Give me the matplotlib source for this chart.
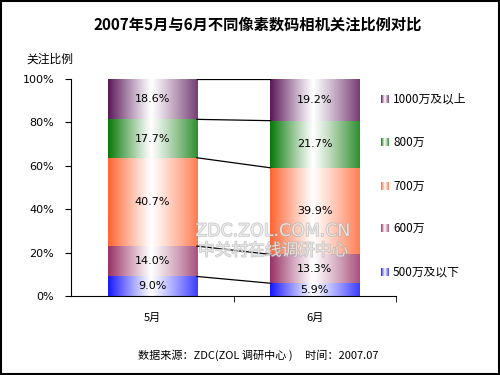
import numpy as np
import matplotlib
matplotlib.use("Agg")
import matplotlib.pyplot as plt
from matplotlib.colors import to_rgb
from matplotlib.patches import Rectangle
import matplotlib.patheffects as pe

plt.rcParams['font.family'] = ['Noto Sans CJK SC', 'DejaVu Sans']

# ---------------- data ----------------
months = ["5月", "6月"]
series = ["500万及以下", "600万", "700万", "800万", "1000万及以上"]
v_500 = [9.0, 5.9]
v_600 = [14.0, 13.3]
v_700 = [40.7, 39.9]
v_800 = [17.7, 21.7]
v_1000 = [18.6, 19.2]
colors = ["#1a1aff", "#993366", "#ff6633", "#0a7a0a", "#5c1a5c"]

values = [v_500, v_600, v_700, v_800, v_1000]


def gradient(color, n=64):
    c = np.array(to_rgb(color))
    u = np.linspace(0, 1, n)
    t = np.where(u < 0.48, 1 - u / 0.48, (u - 0.48) / 0.52 * 0.85)
    t = np.clip(t, 0, 1) ** 1.1
    rgb = 1 - (1 - c)[None, :] * t[:, None]
    return rgb[None, :, :]


fig = plt.figure(figsize=(5, 3.75), dpi=100)
ax = fig.add_axes([71 / 500, 1 - 296 / 375, 325 / 500, 217 / 375])

x = np.arange(len(months))
width = 0.55
bottom = np.zeros(len(months))
tops = []
for vals, col in zip(values, colors):
    vals = np.array(vals)
    for i in range(len(months)):
        ax.imshow(gradient(col), extent=[x[i] - width / 2, x[i] + width / 2,
                                         bottom[i], bottom[i] + vals[i]],
                  aspect='auto', interpolation='bilinear', zorder=2)
        ax.text(x[i], bottom[i] + vals[i] / 2, f"{vals[i]:.1f}%",
                ha='center', va='center', fontsize=8, zorder=4,
                family='DejaVu Sans')
    bottom = bottom + vals
    tops.append(bottom.copy())

# series lines between bars
for tp in tops:
    ax.plot([x[0] + width / 2, x[1] - width / 2], [tp[0], tp[1]],
            color='black', lw=0.9, zorder=3)

ax.set_xlim(-0.5, 1.5)
ax.set_ylim(0, 100)
ax.set_yticks(np.arange(0, 101, 20))
ax.set_yticklabels([f"{v}%" for v in range(0, 101, 20)], family='DejaVu Sans')
ax.set_xticks(x)
ax.set_xticklabels(months)
ax.set_xticks([0.5, 1.5], minor=True)
ax.tick_params(axis='x', which='major', length=0, pad=12, labelsize=8)
ax.tick_params(axis='x', which='minor', length=4, direction='out')
ax.tick_params(axis='y', length=4, direction='out', labelsize=8, pad=8)
for s in ['top', 'right']:
    ax.spines[s].set_visible(False)
ax.patch.set_alpha(0)

# ---------------- overlay (pixel coords) ----------------
ov = fig.add_axes([0, 0, 1, 1], zorder=5)
ov.set_xlim(0, 500)
ov.set_ylim(375, 0)
ov.axis('off')
ov.patch.set_alpha(0)

ov.add_patch(Rectangle((1, 1), 498, 373, fill=False, edgecolor='black', lw=1.5))

ov.text(258, 25, "2007年5月与6月不同像素数码相机关注比例对比",
        ha='center', va='center', fontsize=11, fontweight='bold')
ov.text(50, 59, "关注比例", ha='center', va='center', fontsize=8.5)
ov.text(258, 355, "数据来源：ZDC(ZOL 调研中心 )     时间：2007.07",
        ha='center', va='center', fontsize=8)

# legend
leg_y = [272, 228, 186, 142, 99]
for name, col, yy in zip(series, colors, leg_y):
    ov.imshow(gradient(col), extent=[381, 389, yy + 4, yy - 4],
              aspect='auto', interpolation='bilinear')
    ov.text(393, yy, name, ha='left', va='center', fontsize=8.5)

# watermark
wm = [pe.Stroke(linewidth=1.0, foreground='#9a9a9a'), pe.Normal()]
ov.text(273, 231, "ZDC.ZOL.COM.CN", ha='center', va='center', fontsize=12.5,
        color='white', alpha=0.55, path_effects=wm, family='DejaVu Sans')
ov.text(273, 251, "中关村在线调研中心", ha='center', va='center', fontsize=12,
        color='white', alpha=0.55, path_effects=wm)
ov.set_xlim(0, 500)
ov.set_ylim(375, 0)

fig.savefig("out.png", dpi=100)
